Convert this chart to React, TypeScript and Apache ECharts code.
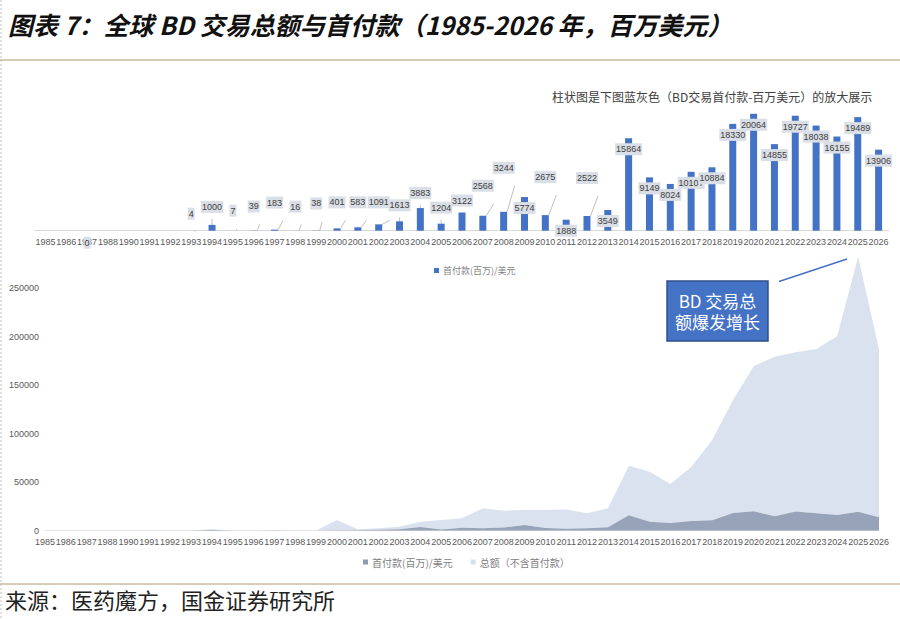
import React, { useEffect, useRef } from 'react';
import * as echarts from 'echarts';

const years = [
  '1985', '1986', '1987', '1988', '1990', '1991', '1992', '1993', '1994', '1995',
  '1996', '1997', '1998', '1999', '2000', '2001', '2002', '2003', '2004', '2005',
  '2006', '2007', '2008', '2009', '2010', '2011', '2012', '2013', '2014', '2015',
  '2016', '2017', '2018', '2019', '2020', '2021', '2022', '2023', '2024', '2025', '2026',
];

// 首付款（百万美元）; null = no data point
const upfront: (number | null)[] = [
  null, null, 0, null, null, null, null, 4, 1000, 7,
  39, 183, 16, 38, 401, 583, 1091, 1613, 3883, 1204,
  3122, 2568, 3244, 5774, 2675, 1888, 2522, 3549, 15864, 9149,
  8024, 10107, 10884, 18330, 20064, 14855, 19727, 18038, 16155, 19489, 13906,
];

// 总额（不含首付款，百万美元）
const totalExUpfront = [
  0, 0, 0, 0, 0, 0, 100, 200, 500, 100,
  200, 400, 100, 200, 10600, 900, 1400, 2400, 5400, 9800,
  9700, 20500, 17400, 15500, 18600, 20100, 15400, 19500, 51100, 51700,
  40100, 55900, 82600, 116500, 149800, 164600, 164300, 169400, 184600, 263100, 173200,
];

const bottomTicks = [0, 50000, 100000, 150000, 200000, 250000];

// callout labels (label distance above bar top, px)
const calloutDistance: Record<string, number> = {
  '1993': 11, '1994': 12, '1995': 14, '1996': 18, '1997': 21, '1998': 18, '1999': 21,
  '2000': 20, '2001': 19, '2002': 16, '2003': 10, '2004': 9, '2005': 10, '2006': 6,
  '2007': 24, '2008': 38, '2010': 32, '2012': 32,
};

const CJK = '"Noto Sans CJK SC", "Noto Sans", sans-serif';
const NUM = '"Liberation Sans", Arial, "Noto Sans CJK SC", sans-serif';

export default function App() {
  const ref = useRef<HTMLDivElement>(null);

  useEffect(() => {
    const chart = echarts.init(ref.current as HTMLDivElement, null, { renderer: 'svg' });

    const barData = upfront.map((v, i) => {
      const y = years[i];
      if (v === null) return { value: null, label: { show: false } };
      if (y in calloutDistance) {
        return {
          value: v,
          label: { position: 'top', distance: calloutDistance[y] },
          labelLine: { show: true },
        };
      }
      if (v === 0) return { value: v, label: { position: 'bottom', distance: 6 } };
      return { value: v, label: { position: 'insideTop', distance: 5 } };
    });

    const option: any = {
      animation: false,
      backgroundColor: '#ffffff',
      textStyle: { fontFamily: NUM },
      grid: [
        { left: 35, right: 11, top: 85, bottom: 388.3, containLabel: false },
        { left: 45, right: 21, top: 239.8, bottom: 88.3, containLabel: false },
      ],
      legend: [
        {
          data: [{ name: '首付款(百万)/美元', itemStyle: { color: '#4472c4' } }],
          left: 429,
          top: 261,
          itemWidth: 5,
          itemHeight: 5,
          icon: 'rect',
          selectedMode: false,
          textStyle: { fontSize: 9, color: '#7f7f7f', fontFamily: CJK, padding: [0, 0, 0, -1] },
        },
        {
          data: [
            { name: '首付款(百万)/美元', itemStyle: { color: '#8c9ab2' } },
            { name: '总额（不含首付款）', itemStyle: { color: '#d6deeb' } },
          ],
          left: 358,
          top: 552,
          itemWidth: 5,
          itemHeight: 5,
          itemGap: 18,
          icon: 'rect',
          selectedMode: false,
          textStyle: { fontSize: 10, color: '#7f7f7f', fontFamily: CJK, padding: [0, 0, 0, -1] },
        },
      ],
      xAxis: [
        {
          gridIndex: 0,
          type: 'category',
          data: years,
          boundaryGap: true,
          axisLine: { show: true, lineStyle: { color: '#d9d9d9' } },
          axisTick: { show: false },
          axisLabel: { interval: 0, fontSize: 9, color: '#595959', margin: 7, fontFamily: NUM },
        },
        {
          gridIndex: 1,
          type: 'category',
          data: years,
          boundaryGap: false,
          axisLine: { show: true, lineStyle: { color: '#e6e6e6' } },
          axisTick: { show: false },
          axisLabel: { interval: 0, fontSize: 9, color: '#595959', margin: 7, fontFamily: NUM },
        },
      ],
      yAxis: [
        { gridIndex: 0, type: 'value', min: 0, max: 25000, show: false },
        {
          gridIndex: 1,
          type: 'value',
          min: 0,
          max: 300000,
          interval: 50000,
          axisLine: { show: false },
          axisTick: { show: false },
          splitLine: { show: false },
          axisLabel: {
            fontSize: 9,
            color: '#595959',
            margin: 6,
            showMaxLabel: false,
            formatter: (v: number) => (bottomTicks.includes(v) ? String(v) : ''),
          },
        },
      ],
      series: [
        {
          name: '首付款(百万)/美元',
          type: 'bar',
          xAxisIndex: 0,
          yAxisIndex: 0,
          data: barData,
          barWidth: 7,
          itemStyle: { color: '#4472c4' },
          label: {
            show: true,
            fontSize: 9,
            color: '#404040',
            fontFamily: NUM,
            backgroundColor: '#dadee6',
            padding: [1, 1],
            lineHeight: 10,
          },
          labelLine: { show: false, lineStyle: { color: '#bfbfbf', width: 1 } },
        },
        {
          name: '首付款(百万)/美元',
          type: 'line',
          xAxisIndex: 1,
          yAxisIndex: 1,
          stack: 'total',
          data: upfront.map((v) => v ?? 0),
          symbol: 'none',
          lineStyle: { width: 0 },
          itemStyle: { color: '#97a3b9' },
          areaStyle: { color: '#97a3b9', opacity: 1 },
          z: 3,
        },
        {
          name: '总额（不含首付款）',
          type: 'line',
          xAxisIndex: 1,
          yAxisIndex: 1,
          stack: 'total',
          data: totalExUpfront,
          symbol: 'none',
          lineStyle: { width: 0 },
          itemStyle: { color: '#dae2ef' },
          areaStyle: { color: '#dae2ef', opacity: 1 },
          z: 2,
        },
      ],
      graphic: [
        {
          type: 'text',
          left: 8,
          top: 11,
          style: {
            text: '图表 7：全球 BD 交易总额与首付款（1985-2026 年，百万美元）',
            fontFamily: CJK,
            fontSize: 25,
            fontStyle: 'italic',
            fontWeight: 'bold',
            fill: '#111111',
          },
        },
        {
          type: 'line',
          shape: { x1: 0, y1: 60, x2: 900, y2: 60 },
          style: { stroke: '#c9b99b', lineWidth: 1.5 },
        },
        {
          type: 'line',
          shape: { x1: 0, y1: 584, x2: 900, y2: 584 },
          style: { stroke: '#c9b99b', lineWidth: 1.5 },
        },
        {
          type: 'line',
          shape: { x1: 1, y1: 0, x2: 1, y2: 619 },
          style: { stroke: '#bfbfbf', lineWidth: 1, lineDash: [2, 2] },
        },
        {
          type: 'text',
          left: 552,
          top: 90,
          style: {
            text: '柱状图是下图蓝灰色（BD交易首付款-百万美元）的放大展示',
            fontFamily: CJK,
            fontSize: 12,
            fill: '#404040',
          },
        },
        {
          type: 'line',
          shape: { x1: 779, y1: 281.5, x2: 847, y2: 259 },
          style: { stroke: '#4472c4', lineWidth: 1.5 },
        },
        {
          type: 'rect',
          shape: { x: 667, y: 281, width: 101, height: 60 },
          style: { fill: '#4472c4', stroke: '#2f4f8a', lineWidth: 1.5 },
        },
        {
          type: 'text',
          x: 717.5,
          y: 300.5,
          style: {
            text: 'BD 交易总',
            fontFamily: CJK,
            fontSize: 17,
            lineHeight: 18,
            fill: '#ffffff',
            align: 'center',
            verticalAlign: 'middle',
          },
        },
        {
          type: 'text',
          x: 717.5,
          y: 321.5,
          style: {
            text: '额爆发增长',
            fontFamily: CJK,
            fontSize: 17,
            lineHeight: 18,
            fill: '#ffffff',
            align: 'center',
            verticalAlign: 'middle',
          },
        },
        {
          type: 'text',
          left: 5,
          top: 588,
          style: {
            text: '来源：医药魔方，国金证券研究所',
            fontFamily: CJK,
            fontSize: 22,
            fill: '#222222',
          },
        },
      ],
    };

    chart.setOption(option);
    return () => chart.dispose();
  }, []);

  return <div ref={ref} style={{ position: 'fixed', left: 0, top: 0, width: 900, height: 619 }} />;
}
